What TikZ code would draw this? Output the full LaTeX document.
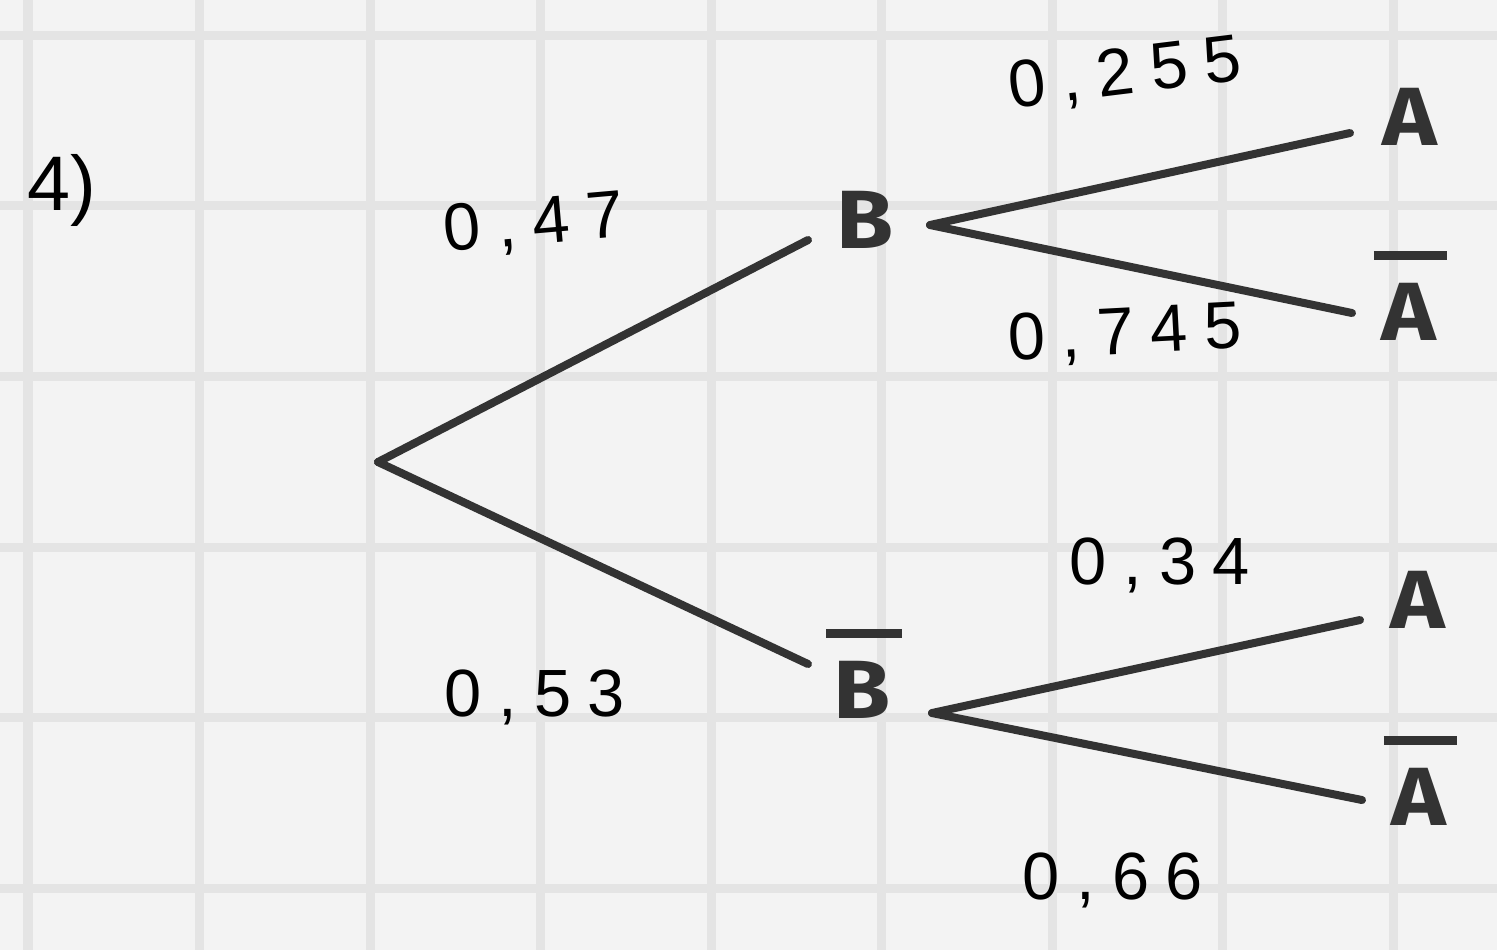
\documentclass[tikz,border=0pt]{standalone}
\usepackage{fontspec}
\newfontfamily\letterfont{Fira Sans}
\newfontfamily\handfont[LetterSpace=25]{Liberation Sans}
\newfontfamily\plainhand{Liberation Sans}
\definecolor{paper}{HTML}{F3F3F3}
\definecolor{gridc}{HTML}{E4E4E4}
\definecolor{ink}{HTML}{333333}
\newdimen\ovlw
\newcommand\ovl[1]{\setbox0\hbox{#1}\ovlw=\wd0 \advance\ovlw by 0.2em
  \vbox{\offinterlineskip\hbox{\kern-0.08em\vrule width \ovlw height 0.11em depth 0pt}\kern0.27em\box0}}
\tikzset{
  gridline/.style={draw=gridc, line width=0.09cm},
  branch/.style={draw=ink, line width=0.08cm, line cap=round},
  event/.style={inner sep=0pt, anchor=base, text=ink, font=\letterfont\bfseries\fontsize{23.5}{28}\selectfont, xscale=1.12},
  prob/.style={inner sep=0pt, text=black, font=\handfont\fontsize{19}{22}\selectfont},
}
\begin{document}
\begin{tikzpicture}[x=0.01cm,y=-0.01cm]
\fill[paper] (0,0) rectangle (1497,950);
\useasboundingbox (0,0) rectangle (1497,950);
\foreach \gx in {28,199,370,540,711,881,1052,1222,1393}
  \draw[gridline] (\gx,0) -- (\gx,950);
\foreach \gy in {35,205,376,547,717,888}
  \draw[gridline] (0,\gy) -- (1497,\gy);

% events
\node[event] (B)  at (865,248) {B};
\node[event] (Bb) at (868,718) {\ovl{B}};
\node[event] (A1) at (1410,145) {A};
\node[event] (A1b) at (1414,340) {\ovl{A}};
\node[event] (A2) at (1418,628) {A};
\node[event] (A2b) at (1424,825) {\ovl{A}};

% branch end points
\coordinate (root) at (378,462);
\coordinate (B-in) at (808,240);
\coordinate (Bb-in) at (808,664);
\coordinate (B-out) at (930,225);
\coordinate (Bb-out) at (932,713);
\coordinate (A1-in) at (1350,133);
\coordinate (A1b-in) at (1352,313);
\coordinate (A2-in) at (1360,620);
\coordinate (A2b-in) at (1362,800);

\draw[branch] (root) -- (B-in);
\draw[branch] (root) -- (Bb-in);
\draw[branch] (B-out) -- (A1-in);
\draw[branch] (B-out) -- (A1b-in);
\draw[branch] (Bb-out) -- (A2-in);
\draw[branch] (Bb-out) -- (A2b-in);

% probabilities
\node[prob, font=\plainhand\fontsize{22}{26}\selectfont] (lab) at (62,190) {4)};
\node[prob, rotate=5] (pB) at (534,225) {0,47};
\node[prob] (pBb) at (535,697) {0,53};
\node[prob, rotate=7] (pA1) at (1125,75) {0,255};
\node[prob, rotate=3] (pA1b) at (1125,335) {0,745};
\node[prob] (pA2) at (1160,565) {0,34};
\node[prob] (pA2b) at (1113,880) {0,66};
\end{tikzpicture}
\end{document}
